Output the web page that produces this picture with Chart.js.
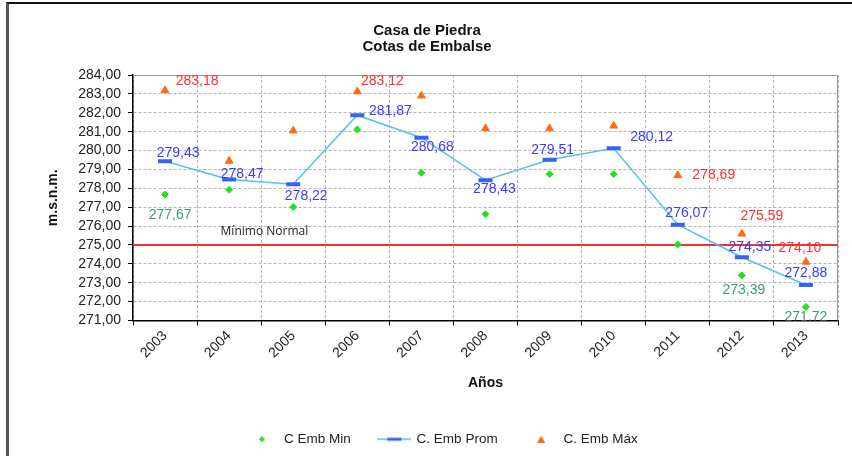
<!DOCTYPE html>
<html>
<head>
<meta charset="utf-8">
<script src="https://cdn.jsdelivr.net/npm/chart.js@4.4.1/dist/chart.umd.min.js"></script>
<style>
  body { margin: 0; background: #fff; }
  #wrap { position: relative; width: 852px; height: 456px; }
  #frame { position: absolute; left: 6px; top: 2px; right: 0; bottom: 0;
           border-left: 3px solid #555; border-top: 2px solid #111; pointer-events: none; }
</style>
</head>
<body>
<div id="wrap">
  <canvas id="chart" width="852" height="456"></canvas>
  <div id="frame"></div>
</div>
<script>
const years = ["2003", "2004", "2005", "2006", "2007", "2008", "2009", "2010", "2011", "2012", "2013"];
const cotaMin  = [277.67, 277.92, 277.01, 281.12, 278.82, 276.63, 278.75, 278.75, 275.03, 273.39, 271.72];
const cotaProm = [279.43, 278.47, 278.22, 281.87, 280.68, 278.43, 279.51, 280.12, 276.07, 274.35, 272.88];
const cotaMax  = [283.18, 279.45, 281.05, 283.12, 282.90, 281.17, 281.17, 281.31, 278.69, 275.59, 274.10];
const minimoNormal = 275;
const yMin = 271;
const yMax = 284;

// where each value label sits relative to its point (null = no label)
const labelOffsets = [
  [[5, 21], null, null, null, null, null, null, null, null, [2, 15], [0, 10]],
  [[13, -8], [13, -5], [13, 12], [33, -4], [11, 9], [9, 9], [3, -10], [38, -11], [9, -12], [8, -10], [0, -12]],
  [[32, -9], null, null, [25, -10], null, null, null, null, [36, 0], [20, -18], [-6, -14]]
];
const labelColors = ["#3f9c70", "#3b3bff", "#ff3030"];

const fmt = v => v.toFixed(2).replace(".", ",");

function makeIcon(w, h, draw) {
  const c = document.createElement("canvas");
  c.width = w;
  c.height = h;
  draw(c.getContext("2d"));
  return c;
}

// small legend icons, drawn once
const minIcon = makeIcon(6, 6, c => {
  c.fillStyle = "#22e022";
  c.beginPath();
  c.moveTo(3, 0); c.lineTo(6, 3); c.lineTo(3, 6); c.lineTo(0, 3);
  c.fill();
});
const promIcon = makeIcon(34, 6, c => {
  c.strokeStyle = "#55c0f0";
  c.lineWidth = 1.5;
  c.beginPath();
  c.moveTo(0, 3);
  c.lineTo(34, 3);
  c.stroke();
  c.fillStyle = "#3366ee";
  c.fillRect(10, 1.5, 14, 3);
});
const maxIcon = makeIcon(8, 7, c => {
  c.fillStyle = "#ff6a10";
  c.beginPath();
  c.moveTo(4, 0); c.lineTo(8, 7); c.lineTo(0, 7);
  c.fill();
});

const extras = {
  id: "extras",
  afterUpdate(chart) {
    // legend and title sit a bit right of centre in the original
    chart.legend.left += 23;
    chart.legend.right += 23;
    chart.legend.top += 2;
    chart.legend.bottom += 2;
    chart.titleBlock.left += 8;
    chart.titleBlock.right += 8;
  },
  beforeDatasetsDraw(chart) {
    const { ctx, chartArea: a, scales: { x, y } } = chart;
    ctx.save();
    ctx.strokeStyle = "#999";
    ctx.lineWidth = 1;
    ctx.beginPath();
    ctx.moveTo(a.left, a.top + 0.5);
    ctx.lineTo(a.right - 0.5, a.top + 0.5);
    ctx.lineTo(a.right - 0.5, a.bottom);
    ctx.stroke();

    const yN = y.getPixelForValue(minimoNormal);
    ctx.strokeStyle = "#e83535";
    ctx.lineWidth = 2;
    ctx.beginPath();
    ctx.moveTo(a.left, yN);
    ctx.lineTo(a.right, yN);
    ctx.stroke();

    ctx.fillStyle = "#222";
    ctx.font = "12px 'Open Sans'";
    ctx.textAlign = "center";
    ctx.textBaseline = "middle";
    ctx.fillText("Mínimo Normal", x.getPixelForValue(1.55), yN - 13);
    ctx.restore();
  },
  afterDatasetsDraw(chart) {
    const { ctx, chartArea: a } = chart;
    ctx.save();
    ctx.beginPath();
    ctx.rect(a.left, a.top, a.right - a.left, a.bottom - a.top);
    ctx.clip();
    ctx.font = "14px 'Liberation Sans'";
    ctx.textAlign = "center";
    ctx.textBaseline = "middle";
    chart.data.datasets.forEach((ds, i) => {
      const meta = chart.getDatasetMeta(i);
      ctx.fillStyle = labelColors[i];
      meta.data.forEach((pt, j) => {
        const off = labelOffsets[i][j];
        if (!off) return;
        ctx.fillText(fmt(ds.data[j]), pt.x + off[0], pt.y + off[1]);
      });
    });
    ctx.restore();
  }
};

const ctx = document.getElementById("chart").getContext("2d");
new Chart(ctx, {
  type: "line",
  data: {
    labels: years,
    datasets: [
      {
        label: "C Emb Min",
        data: cotaMin,
        showLine: false,
        pointStyle: "rectRot",
        pointRadius: 3.5,
        backgroundColor: "#22e022",
        borderColor: "#22e022",
        pointBorderWidth: 1
      },
      {
        label: "C. Emb Prom",
        data: cotaProm,
        borderColor: "#55c0f0",
        borderWidth: 1.5,
        backgroundColor: "#3366ee",
        pointStyle: "line",
        pointRadius: 7,
        pointBorderWidth: 4,
        pointBorderColor: "#3366ee",
        tension: 0
      },
      {
        label: "C. Emb Máx",
        data: cotaMax,
        showLine: false,
        pointStyle: "triangle",
        pointRadius: 4.5,
        backgroundColor: "#ff6a10",
        borderColor: "#ff6a10",
        pointBorderWidth: 1
      }
    ]
  },
  options: {
    responsive: false,
    animation: false,
    events: [],
    layout: { padding: { top: 0, left: 0, right: 14, bottom: 2 } },
    scales: {
      x: {
        offset: true,
        grid: { offset: true, color: "#b4b4b4", tickColor: "#000", tickLength: 5 },
        border: { color: "#000", width: 1.5, dash: [3, 2] },
        ticks: { color: "#222", font: { family: "Liberation Sans", size: 14 }, minRotation: 45, maxRotation: 45, padding: 2 },
        title: { display: true, text: "Años", color: "#111", font: { family: "Liberation Sans", size: 14, weight: "bold" }, padding: { top: 0, bottom: 11 } },
        afterFit(scale) { scale.height = 82; }
      },
      y: {
        min: yMin,
        max: yMax,
        grid: { color: "#b4b4b4", tickColor: "#000", tickLength: 5 },
        border: { color: "#000", width: 1.5, dash: [3, 2] },
        ticks: { stepSize: 1, autoSkip: false, color: "#222", padding: 7, font: { family: "Liberation Sans", size: 14 }, callback: v => fmt(v) },
        title: { display: true, text: "m.s.n.m.", color: "#111", font: { family: "Liberation Sans", size: 14, weight: "bold" }, padding: { top: 45, bottom: 0 } },
        afterFit(scale) { scale.width = 133; }
      }
    },
    plugins: {
      title: {
        display: true,
        text: ["Casa de Piedra", "Cotas de Embalse"],
        color: "#111",
        font: { family: "Liberation Sans", size: 15, weight: "bold", lineHeight: 16 / 15 },
        padding: { top: 23, bottom: 20 }
      },
      legend: {
        position: "bottom",
        labels: {
          usePointStyle: true,
          pointStyleWidth: 31,
          boxHeight: 5,
          padding: 28,
          color: "#222",
          font: { family: "Liberation Sans", size: 13.5 },
          generateLabels(chart) {
            const items = Chart.defaults.plugins.legend.labels.generateLabels(chart);
            items[0].pointStyle = minIcon;
            items[1].pointStyle = promIcon;
            items[2].pointStyle = maxIcon;
            return items;
          }
        }
      },
      tooltip: { enabled: false }
    }
  },
  plugins: [extras]
});
</script>
</body>
</html>
